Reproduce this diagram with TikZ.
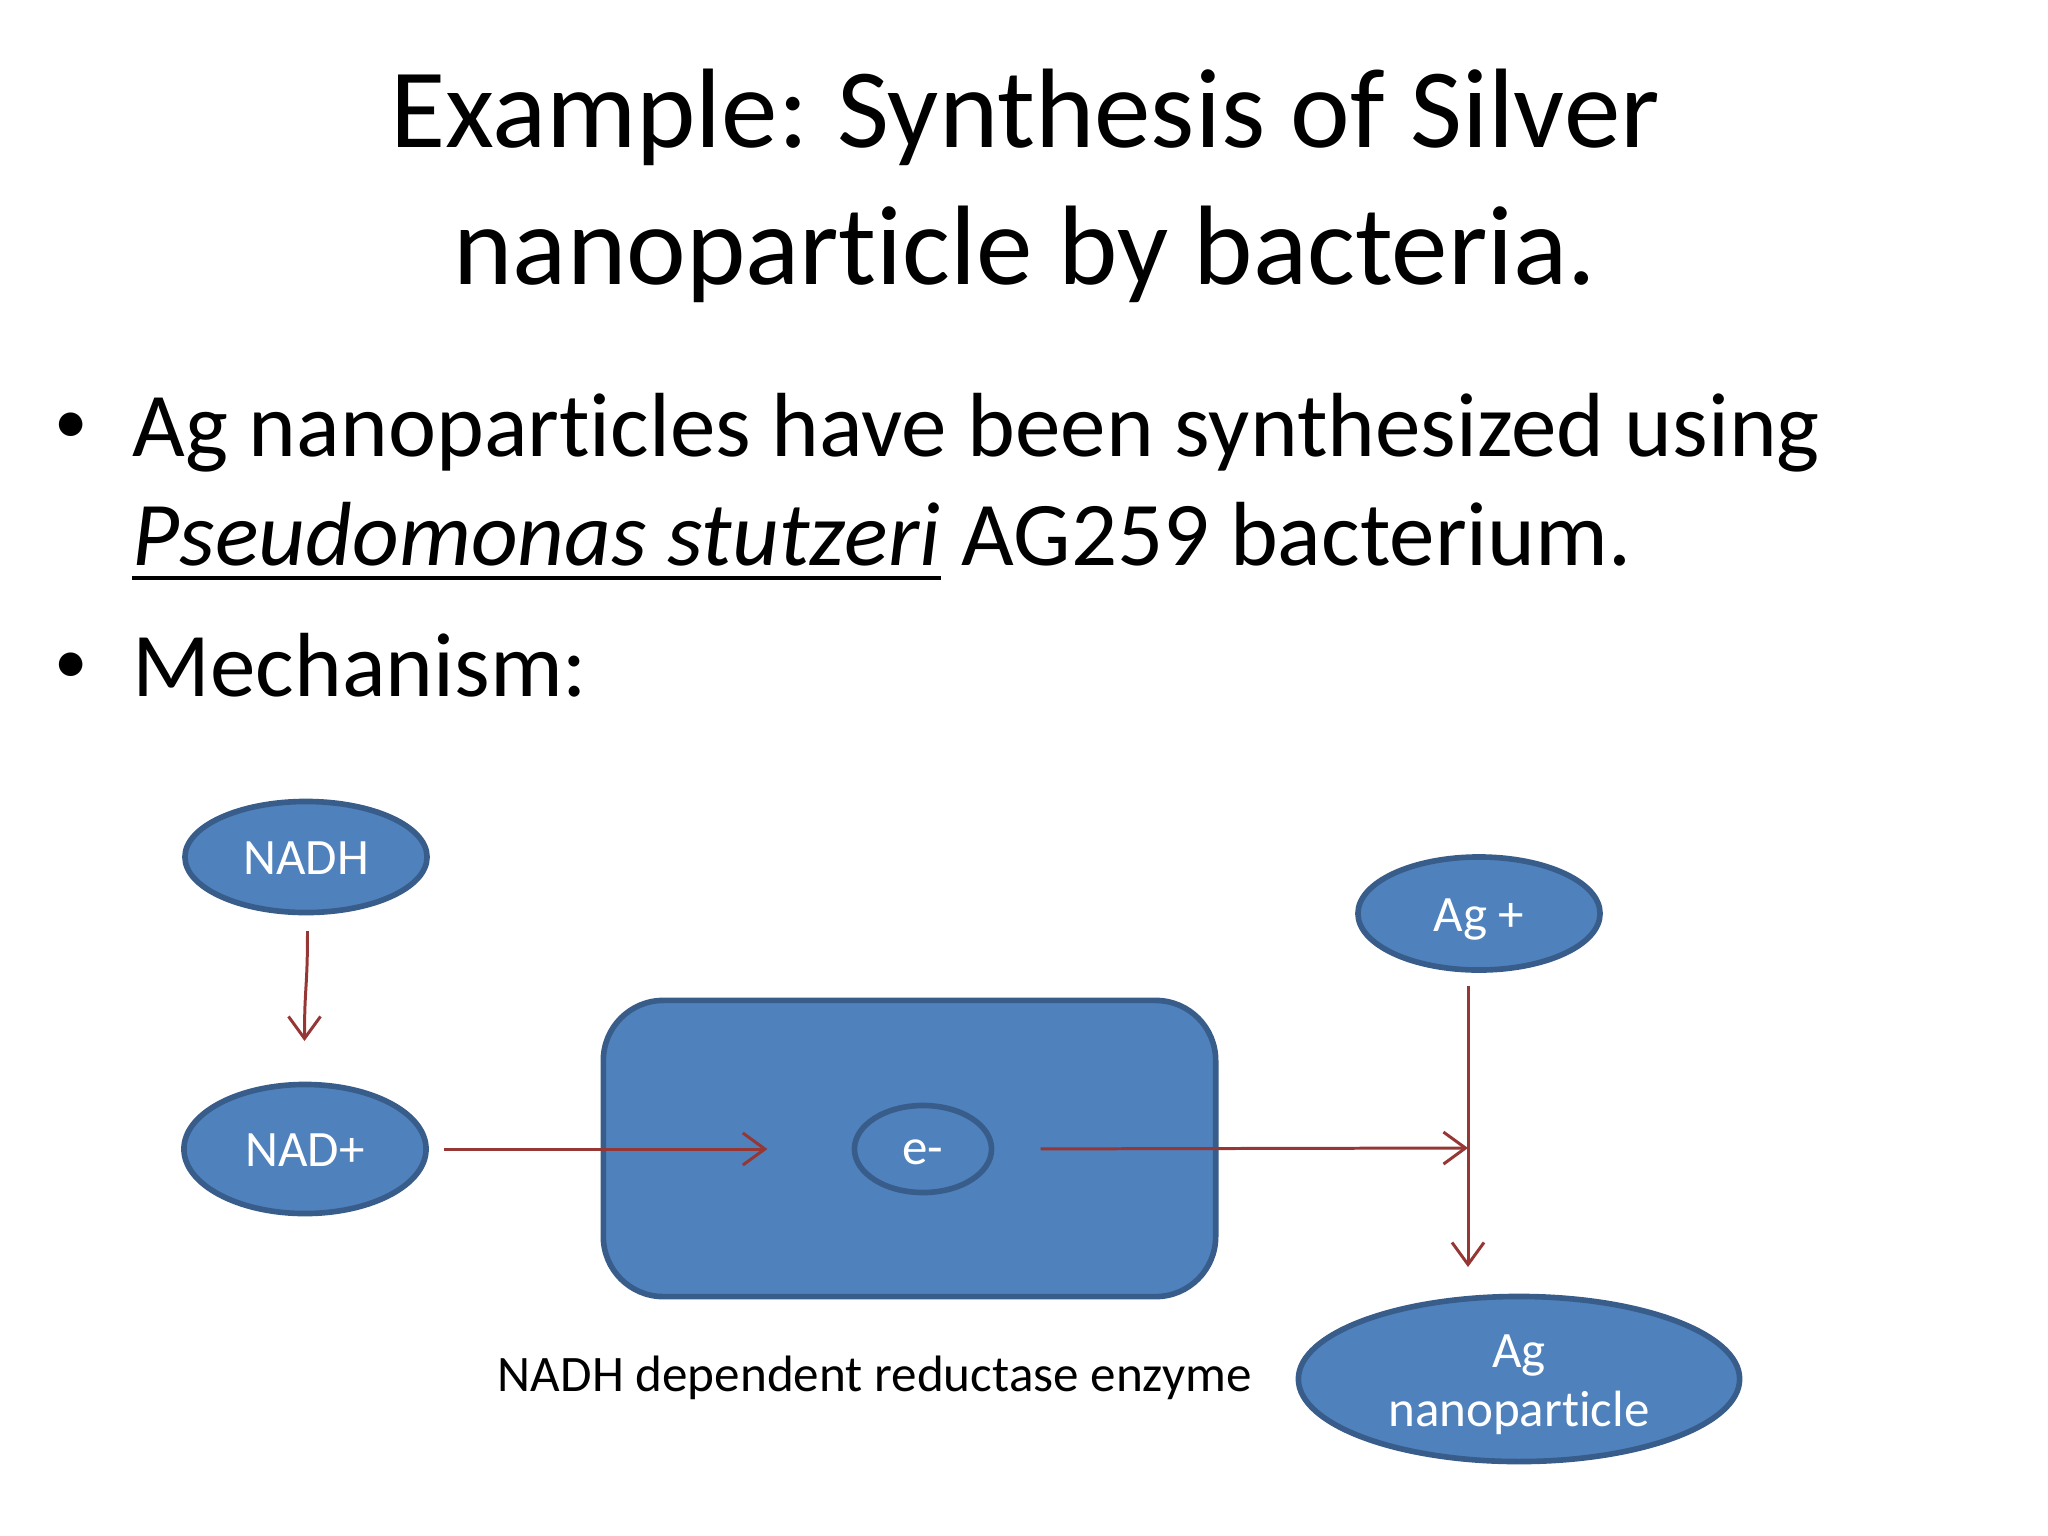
\documentclass[tikz,border=0pt]{standalone}
\usepackage{fontspec}
\setmainfont{Carlito}[RawFeature={-liga}]
\usetikzlibrary{shapes.geometric,arrows.meta}
\definecolor{blfill}{HTML}{4F81BD}
\definecolor{bledge}{HTML}{385D8A}
\definecolor{arrowred}{HTML}{953735}
\newcommand{\fs}[1]{\fontsize{#1}{17pt}\selectfont}
\newcommand{\lift}[1]{\rule{0pt}{#1}}
\tikzset{
  x=0.01cm,y=-0.01cm,
  titletext/.style={anchor=base,inner sep=0pt,font=\fs{32.15pt}},
  bodytext/.style={anchor=base west,inner sep=0pt,font=\fs{25.9pt}},
  dottext/.style={anchor=base west,inner sep=0pt,font=\fs{19pt}},
  bubble/.style={ellipse,draw=bledge,fill=blfill,line width=1.6pt,inner sep=0pt,outer sep=0pt,text=white,align=center,font=\fs{14.5pt}},
  enzyme/.style={rectangle,rounded corners=0.6cm,draw=bledge,fill=blfill,line width=1.6pt,inner sep=0pt,outer sep=0pt},
  flow/.style={draw=arrowred,line width=0.85pt,-{Straight Barb[length=2.2mm,width=3.2mm,line width=0.85pt]}},
  label/.style={inner sep=0pt,font=\fs{14.55pt}}
}
\begin{document}
\begin{tikzpicture}
\useasboundingbox (0,0) rectangle (2048,1536);
\node[titletext] (t1) at (1025,147) {Example:\kern-1.5pt{} Synthesis of Silver};
\node[titletext] (t2) at (1025,284) {nanoparticle by bacteria.};
\node[dottext] (b1) at (54,443) {•};
\node[bodytext] (l1) at (132,456) {Ag nanoparticles have been synthesized using};
\node[bodytext] (ps) at (132,565) {\itshape Pseudomonas stutzeri};
\node[bodytext] (rest) at ([xshift=0.2cm]ps.base east) {AG259 bacterium.};
\draw[line width=1.3pt] ([yshift=-0.13cm]ps.base west) -- ([yshift=-0.13cm]ps.base east);
\node[dottext] (b2) at (54,683) {•};
\node[bodytext] (l3) at (132,696) {Mechanism:};

\node[enzyme,minimum width=6.12cm,minimum height=2.96cm] (rect) at (909.5,1148.5) {};
\node[bubble,minimum width=2.42cm,minimum height=1.11cm] (nadh) at (306,857) {\lift{9.9pt}NADH};
\node[bubble,minimum width=2.42cm,minimum height=1.29cm] (nadp) at (305,1149) {\lift{9.9pt}NAD+};
\node[bubble,minimum width=1.37cm,minimum height=0.87cm] (e) at (923,1149) {\lift{9pt}e-};
\node[bubble,minimum width=2.42cm,minimum height=1.13cm] (agp) at (1479,913.5) {\lift{12.6pt}Ag +};
\node[bubble,minimum width=4.41cm,minimum height=1.65cm] (nano) at (1519,1379) {\lift{12.6pt}Ag\\nanoparticle};
\node[label] (enz) at (875,1378) {NADH dependent reductase enzyme};

\coordinate (j) at (1468,1148);
\coordinate (agtop) at (1468,986);
\coordinate (agend) at (1468,1267);
\coordinate (nadhtop) at (307.5,931);
\coordinate (nadhend) at (304.5,1041);
\draw[flow] (nadhtop) .. controls (307.5,990) and (304.5,985) .. (nadhend);
\draw[flow,shorten <=0.18cm,shorten >=0.87cm] (nadp.east) -- (e.west);
\draw[flow,shorten <=0.49cm] (e.east) -- (j);
\draw[flow] (agtop) -- (agend);
\end{tikzpicture}
\end{document}
